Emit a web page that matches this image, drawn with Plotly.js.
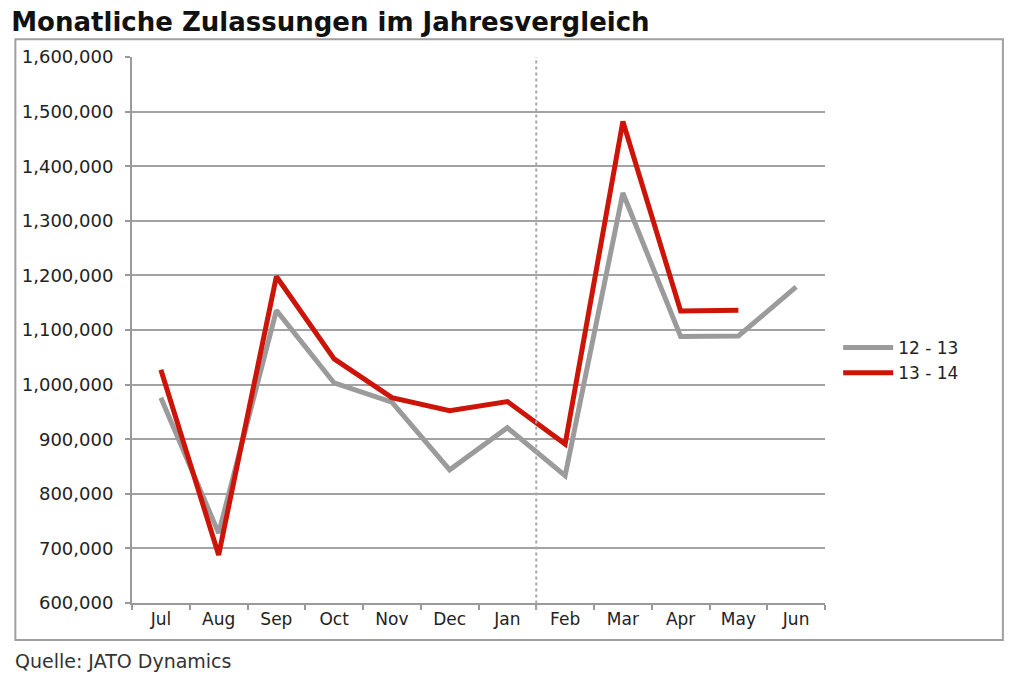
<!DOCTYPE html>
<html>
<head>
<meta charset="utf-8">
<script src="https://cdn.plot.ly/plotly-3.0.1.min.js"></script>
<style>
  body { margin: 0; background: #fff; }
  #chart { width: 1024px; height: 681px; }
</style>
</head>
<body>
<div id="chart"></div>
<script>
// Monatliche Zulassungen - Vergleich 12/13 vs 13/14

const months = ['Jul', 'Aug', 'Sep', 'Oct', 'Nov', 'Dec', 'Jan', 'Feb', 'Mar', 'Apr', 'May', 'Jun'];
const regs1213 = [976000, 728000, 1136000, 1003000, 968000, 844000, 921000, 833000, 1351000, 1088000, 1089000, 1179000];
const regs1314 = [1027000, 688000, 1198000, 1047000, 976000, 952000, 969000, 891000, 1482000, 1135000, 1136000];
const yTicks = [600000, 700000, 800000, 900000, 1000000, 1100000, 1200000, 1300000, 1400000, 1500000, 1600000];

const font = 'Verdana, "DejaVu Sans", sans-serif';

const traces = [
    {
        x: months,
        y: regs1213,
        name: '12 - 13',
        type: 'scatter',
        mode: 'lines',
        line: { color: '#9b9b9b', width: 5 }
    },
    {
        x: months.slice(0, regs1314.length),
        y: regs1314,
        name: '13 - 14',
        type: 'scatter',
        mode: 'lines',
        line: { color: '#cc1408', width: 5 }
    }
];

const layout = {
    width: 1024,
    height: 681,
    paper_bgcolor: '#ffffff',
    plot_bgcolor: '#ffffff',
    margin: { l: 132, r: 199, t: 57, b: 78 },
    font: { family: font, size: 17, color: '#222222' },
    title: {
        text: '<b>Monatliche Zulassungen im Jahresvergleich</b>',
        font: { family: font, size: 26, color: '#111111' },
        x: 0.011, xanchor: 'left', xref: 'container',
        y: 0.968, yanchor: 'middle'
    },
    xaxis: {
        type: 'category',
        range: [-0.5, 11.5],
        showgrid: false,
        showline: true,
        linecolor: '#9a9a9a',
        linewidth: 2,
        ticks: 'outside',
        tickson: 'boundaries',
        ticklen: 5,
        tickcolor: '#9a9a9a',
        tickwidth: 2,
        tickfont: { family: font, size: 17, color: '#222222' },
        fixedrange: true
    },
    yaxis: {
        range: [600000, 1600000],
        tickvals: yTicks,
        tickformat: ',d',
        showgrid: true,
        gridcolor: '#a3a3a3',
        gridwidth: 2,
        zeroline: false,
        showline: true,
        linecolor: '#9a9a9a',
        linewidth: 2,
        ticks: 'outside',
        ticklen: 5,
        tickcolor: '#9a9a9a',
        tickwidth: 2,
        ticklabelstandoff: 8,
        tickfont: { family: font, size: 18, color: '#222222' },
        fixedrange: true
    },
    showlegend: true,
    legend: {
        x: 1.019, xanchor: 'left',
        y: 0.5, yanchor: 'top',
        font: { family: font, size: 17, color: '#222222' },
        bgcolor: 'rgba(0,0,0,0)',
        itemwidth: 50,
        tracegroupgap: 0
    },
    shapes: [
        // dotted separator between calendar years
        {
            type: 'line', xref: 'x', yref: 'paper',
            x0: 6.5, x1: 6.5, y0: -0.012, y1: 1,
            line: { color: '#a8a8a8', width: 2, dash: 'dot' }
        },
        // outer frame
        {
            type: 'rect', xref: 'paper', yref: 'paper',
            x0: -0.1683, x1: 1.2567, y0: -0.0678, y1: 1.0324,
            line: { color: '#a0a0a0', width: 2 }
        }
    ],
    annotations: [
        {
            text: 'Quelle: JATO Dynamics',
            xref: 'paper', yref: 'paper',
            x: -0.171, xanchor: 'left',
            y: -0.106, yanchor: 'middle',
            showarrow: false,
            font: { family: font, size: 19, color: '#333333' }
        }
    ]
};

Plotly.newPlot('chart', traces, layout, { displayModeBar: false, staticPlot: true });
</script>
</body>
</html>
